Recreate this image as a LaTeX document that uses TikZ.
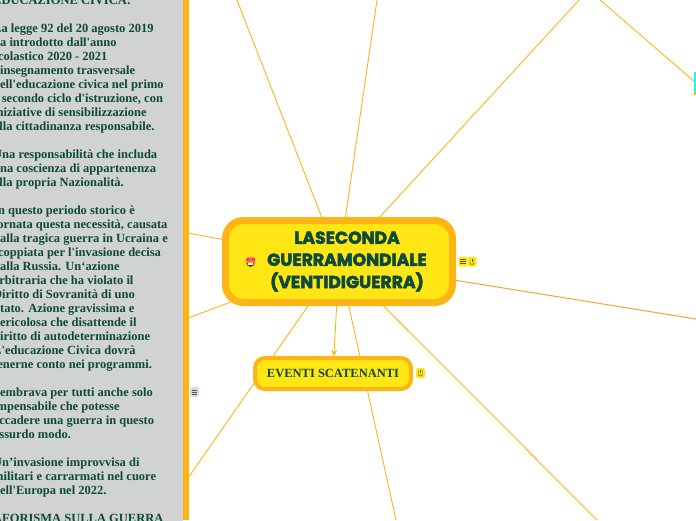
\documentclass[tikz,border=0pt]{standalone}
\usepackage{fontspec}
\usetikzlibrary{arrows.meta,backgrounds}
\setmainfont[Ligatures=TeXOff]{Liberation Serif}
\newfontfamily\titlefont[UprightFont=* Bold,FakeBold=3]{Poppins}
\definecolor{inkgreen}{HTML}{0D4A3A}
\definecolor{amber}{HTML}{FDB515}
\definecolor{sun}{HTML}{FFE614}
\definecolor{panelgray}{HTML}{D0D2D4}
\definecolor{linkorange}{HTML}{F7A23C}
\definecolor{aqua}{HTML}{1CF7E6}
\definecolor{iconink}{HTML}{4A5A40}
\tikzset{
  link/.style={draw=amber,line width=0.9pt},
  hotlink/.style={draw=linkorange,line width=1pt},
  rootbox/.style={draw=amber,fill=sun,line width=7pt,rounded corners=18pt,minimum width=227pt,minimum height=82pt,inner sep=0pt,text=inkgreen},
  eventbox/.style={draw=amber,fill=sun,line width=4pt,rounded corners=10pt,minimum width=156pt,minimum height=31pt,inner sep=0pt,text=inkgreen,font=\bfseries\fontsize{12.5}{14}\selectfont},
  panelbox/.style={fill=panelgray,draw=none,minimum width=183pt,minimum height=540pt,inner sep=0pt},
  badge/.style={fill=sun,rounded corners=1.5pt,minimum width=9pt,minimum height=10pt,inner sep=0pt},
  greybadge/.style={fill=panelgray!80!white,rounded corners=1.5pt,minimum width=9pt,minimum height=10pt,inner sep=0pt},
  icon/.style={draw=iconink,line width=0.45pt},
}
\newcommand{\burgericon}[1]{%
  \draw[icon] ([xshift=-2.6pt,yshift=2pt]#1.center) -- ++(5.2pt,0);
  \draw[icon] ([xshift=-2.6pt]#1.center) -- ++(5.2pt,0);
  \draw[icon] ([xshift=-2.6pt,yshift=-2pt]#1.center) -- ++(5.2pt,0);}
\newcommand{\clipicon}[1]{%
  \draw[icon,rounded corners=1pt] ([xshift=-2pt,yshift=2.8pt]#1.center) -- ++(0,-5.6pt) -- ++(4pt,0) -- ++(0,5.6pt);
  \draw[icon] ([yshift=2.8pt]#1.center) -- ++(0,-3pt);}
\begin{document}
\begin{tikzpicture}[x=1pt,y=-1pt]
\useasboundingbox (0,0) rectangle (696,520);
\clip (0,0) rectangle (696,520);
% nodes
\node[rootbox] (root) at (339,261.5) {\hspace*{16pt}{\titlefont\fontsize{17.2}{22}\selectfont\begin{tabular}{@{}c@{}}LASECONDA\\GUERRAMONDIALE\\(VENTIDIGUERRA)\end{tabular}}};
\node[eventbox] (events) at (333,373.5) {EVENTI SCATENANTI};
\node[fill=aqua,minimum width=3pt,minimum height=21pt,inner sep=0pt] (cyanbox) at (695.5,82.5) {};
% free ends
\coordinate (e1) at (237,0);
\coordinate (e2) at (377,0);
\coordinate (e3) at (579,0);
\coordinate (e4) at (188,233);
\coordinate (e5) at (188,318);
\coordinate (e6) at (188,478);
\coordinate (e7) at (396,520);
\coordinate (e8) at (597,520);
\coordinate (e9) at (696,319);
\coordinate (e10) at (600,0);
\begin{pgfonlayer}{background}
\foreach \e in {e1,e2,e3,e4,e5,e6,e7,e8}{\draw[link] (root.center) -- (\e);}
\draw[hotlink] (root.center) -- (e9);
\draw[link] (e10) -- (cyanbox);
\end{pgfonlayer}
\draw[link,-{Stealth[length=6pt,width=6pt]}] (root) -- (events);
\fill[amber] (693.5,92) rectangle (696,94.5);
% side panel
\node[panelbox,anchor=north west] (panel) at (0,-10) {};
\fill[amber] (183,0) rectangle (188.5,520);
\node[anchor=north west,inner sep=0pt,align=left,text=inkgreen,font=\bfseries\fontsize{12.5}{14}\selectfont] (paneltext) at (-7,-4) {%
EDUCAZIONE CIVICA:\\[14pt]
La legge 92 del 20 agosto 2019\\
ha introdotto dall'anno\\
scolastico 2020 - 2021\\
l'insegnamento trasversale\\
dell'educazione civica nel primo\\
e secondo ciclo d'istruzione, con\\
iniziative di sensibilizzazione\\
alla cittadinanza responsabile.\\[14pt]
Una responsabilità che includa\\
una coscienza di appartenenza\\
alla propria Nazionalità.\\[14pt]
In questo periodo storico è\\
tornata questa necessità, causata\\
dalla tragica guerra in Ucraina e\\
scoppiata per l'invasione decisa\\
dalla Russia. Un‘azione\\
arbitraria che ha violato il\\
Diritto di Sovranità di uno\\
Stato. Azione gravissima e\\
pericolosa che disattende il\\
diritto di autodeterminazione\\
L'educazione Civica dovrà\\
tenerne conto nei programmi.\\[14pt]
Sembrava per tutti anche solo\\
impensabile che potesse\\
accadere una guerra in questo\\
assurdo modo.\\[14pt]
Un’invasione improvvisa di\\
militari e carrarmati nel cuore\\
dell'Europa nel 2022.\\[14pt]
AFORISMA SULLA GUERRA};
% badges
\node[badge] (b1) at (463,261.5) {};
\node[badge] (b2) at (472,261.5) {};
\node[badge] (b3) at (420.5,373) {};
\node[greybadge] (b4) at (194.5,392) {};
\burgericon{b1}
\clipicon{b2}
\clipicon{b3}
\burgericon{b4}
% emoji
\fill[orange!85!yellow] (250.5,262) circle (5.2pt);
\fill[magenta!80!white] (248,259.5) circle (2pt);
\fill[magenta!80!white] (253.2,259.5) circle (2pt);
\fill[black!75] (247,263.2) -- (254,263.2) arc[start angle=0,end angle=-180,radius=3.5pt] -- cycle;
\fill[white] (248,263.4) rectangle (253,264.6);
\end{tikzpicture}
\end{document}
